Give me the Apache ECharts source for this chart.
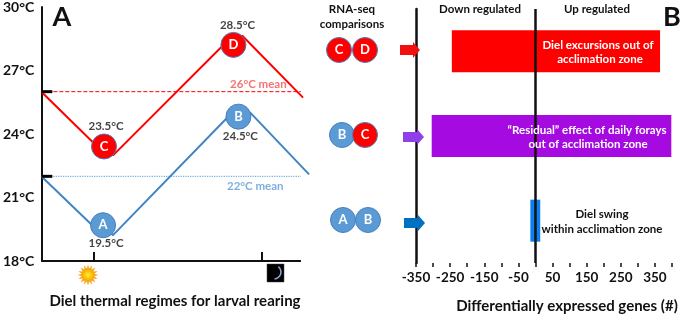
<!DOCTYPE html>
<html><head><meta charset="utf-8">
<style>html,body{margin:0;padding:0;background:#fff}#c{width:685px;height:316px}</style>
<script src="https://cdn.jsdelivr.net/npm/echarts@6/dist/echarts.min.js"></script>
</head><body><div id="c"></div>
<script>
const FONT = 'Lato';
const RED = '#ff0000', BLUE = '#3f86c6', CIRCLE_BLUE = '#5b9bd5';
// Panel A (x = hour of day, y = temperature)
const redLine = [[8.21,26],[11.93,23.6],[12.71,23.41],[13.36,22.99],[21.21,28.16],[22,28.21],[22.64,28.64],[27,25.72]];
const blueLine = [[8.21,22],[11.86,19.69],[12.64,19.69],[13.36,19.22],[21.57,24.78],[22.36,24.82],[23.21,25.01],[27.43,22.09]];
const baseline = [[8.21,18],[26.85,18]];
const redMean = [[8.21,26],[26.85,26]];
const blueMean = [[8.21,22],[26.85,22]];
const redStub = [[8.21,26],[9.0,26]];
const blueStub = [[8.21,22],[9.0,22]];
const redNodes = [[12.71,23.41,'C'],[22,28.21,'D']];
const blueNodes = [[12.64,19.69,'A'],[22.36,24.82,'B']];
const tempLabels = [[22.29,29.15,'28.5°C'],[12.86,24.35,'23.5°C'],[22.5,23.88,'24.5°C'],[12.86,18.85,'19.5°C']];
const redMeanLabel = [[23.79,26.35,'26°C mean']];
const blueMeanLabel = [[23.57,21.53,'22°C mean']];
// Panel B
const comparisons = ['C-D','B-C','A-B'];
const downGenes = [-245,-304,-15];
const upGenes = [365,398,14];
const barColors = ['#ff0000','#a50ae0','#0a80f0'];

const txt = (x,y,text,size,color,align,weight) => ({type:'text',z:12,x,y,style:{text,fill:color||'#111',
  font:`${weight||'bold'} ${size}px ${FONT}`,align:align||'center',verticalAlign:'middle'}});
const circle = (x,y,fill,letter,z) => [
  {type:'circle',z:z||5,shape:{cx:x,cy:y,r:12.5},style:{fill,stroke:'#4a7ebb',lineWidth:1}},
  txt(x,y,letter,13,'#fff')];
const arrow = (x0,x1,y,fill) => ({type:'polygon',z:4,shape:{points:[[x0,y-5],[x1-7,y-5],[x1-7,y-8],[x1,y],[x1-7,y+8],[x1-7,y+5],[x0,y+5]]},style:{fill}});
const sunRays = (cx,cy,n,r,r0) => { const p=[]; for(let i=0;i<n*2;i++){const a=Math.PI*i/n, q=i%2?r0:r; p.push([cx+q*Math.cos(a),cy+q*Math.sin(a)]);} return p; };

const nodeSeries = (data,color) => ({type:'scatter',xAxisIndex:0,yAxisIndex:0,z:6,data,symbolSize:25,clip:false,
  itemStyle:{color,borderColor:'#4a7ebb',borderWidth:1,opacity:1},
  label:{show:true,position:'inside',color:'#fff',fontFamily:FONT,fontWeight:'bold',fontSize:13,formatter:p=>p.data[2]}});
const lineSeries = (data,color,width,type) => ({type:'line',xAxisIndex:0,yAxisIndex:0,data,showSymbol:false,clip:false,z:type?2:3,silent:true,
  lineStyle:{color,width,type:type||'solid',cap:'butt'}});
const textSeries = (data,color,size) => ({type:'scatter',xAxisIndex:0,yAxisIndex:0,data,symbolSize:0,clip:false,z:8,
  label:{show:true,position:'inside',color,fontFamily:FONT,fontWeight:'bold',fontSize:size,formatter:p=>p.data[2]}});

const option = {
  animation:false,
  backgroundColor:'#fff',
  textStyle:{fontFamily:FONT},
  grid:[{left:40,top:6,width:271,height:255},{left:416,top:9,width:256,height:254}],
  xAxis:[
    {gridIndex:0,type:'value',min:8.21,max:27.57,splitLine:{show:false},axisLabel:{show:false},
     axisLine:{show:false,onZero:false},
     axisTick:{show:true,inside:true,length:9,customValues:[12,24],lineStyle:{color:'#111',width:2}}},
    {gridIndex:1,type:'value',min:-350,max:400,interval:50,splitLine:{show:false},
     axisLine:{onZero:false,lineStyle:{color:'#111',width:2}},
     axisTick:{show:true,length:4,lineStyle:{color:'#111',width:1.5}},
     axisLabel:{color:'#111',fontFamily:FONT,fontWeight:'bold',fontSize:13.5,margin:8,hideOverlap:false,
       formatter:v=>((v+350)%100===0&&v<400)?String(v):''}}
  ],
  yAxis:[
    {gridIndex:0,type:'value',min:18,max:30,interval:3,splitLine:{show:false},axisTick:{show:false},
     axisLine:{show:true,onZero:false,lineStyle:{color:'#111',width:2}},
     axisLabel:{color:'#111',fontFamily:FONT,fontWeight:'bold',fontSize:14,margin:7,formatter:v=>v+'°C'}},
    {gridIndex:1,type:'category',inverse:true,data:comparisons,splitLine:{show:false},axisTick:{show:false},axisLabel:{show:false},
     axisLine:{show:true,onZero:false,lineStyle:{color:'#111',width:2.5}}}
  ],
  series:[
    lineSeries(baseline,'#111',2),
    lineSeries(redMean,RED,1,'dashed'),
    lineSeries(blueMean,'#6aaee8',1.2,'dotted'),
    lineSeries(redLine,RED,2),
    lineSeries(blueLine,BLUE,2),
    lineSeries(redStub,'#000',3),
    lineSeries(blueStub,'#000',3),
    nodeSeries(redNodes,RED),
    nodeSeries(blueNodes,CIRCLE_BLUE),
    textSeries(tempLabels,'#111',11.5),
    textSeries(redMeanLabel,'#f25050',11.5),
    textSeries(blueMeanLabel,'#5b9bd5',11.5),
    {type:'bar',xAxisIndex:1,yAxisIndex:1,stack:'g',barWidth:42,z:2,
     data:downGenes.map((v,i)=>({value:v,itemStyle:{color:barColors[i]}})),
     markLine:{silent:true,symbol:'none',z:9,label:{show:false},lineStyle:{color:'#111',width:2.5,type:'solid'},data:[{xAxis:0}]}},
    {type:'bar',xAxisIndex:1,yAxisIndex:1,stack:'g',barWidth:42,z:2,
     data:upGenes.map((v,i)=>({value:v,itemStyle:{color:barColors[i]}}))}
  ],
  graphic:[
    txt(62,17,'A',27,'#111'),
    txt(672,17,'B',27,'#111'),
    txt(175,301,'Diel thermal regimes for larval rearing',15,'#111'),
    txt(567,306,'Differentially expressed genes (#)',15,'#111'),
    txt(352,9,'RNA-seq',11.5,'#111'),
    txt(352,24,'comparisons',11.5,'#111'),
    txt(480,9,'Down regulated',11.5,'#111'),
    txt(597,9,'Up regulated',11.5,'#111'),
    txt(598,45,'Diel excursions out of',11.5,'#fff'),
    txt(600,59,'acclimation zone',11.5,'#fff'),
    txt(587,130,'“Residual” effect of daily forays',11.5,'#fff'),
    txt(588,144,'out of acclimation zone',11.5,'#fff'),
    txt(602,214,'Diel swing',11.5,'#111'),
    txt(602,229,'within acclimation zone',11.5,'#111'),
    ...circle(339,50,RED,'C'),...circle(365,50,RED,'D',6),
    ...circle(342,135,CIRCLE_BLUE,'B'),...circle(365,135,RED,'C',6),
    ...circle(343,220,CIRCLE_BLUE,'A'),...circle(368,220,CIRCLE_BLUE,'B',6),
    arrow(400,420,50,'#f01010'),
    arrow(403,424,137,'#9040e8'),
    arrow(404,425,223,'#0070c0'),
    // sun
    {type:'polygon',z:5,shape:{points:sunRays(88,275,16,10.5,6.5)},style:{fill:'#f9a825'}},
    {type:'circle',z:6,shape:{cx:88,cy:275,r:6},style:{fill:{type:'radial',x:.5,y:.5,r:.5,colorStops:[{offset:0,color:'#ffee30'},{offset:1,color:'#f5a800'}]}}},
    // moon
    {type:'rect',z:5,shape:{x:267,y:264,width:17,height:18},style:{fill:'#000',stroke:'#444',lineWidth:.5}},
    {type:'arc',z:6,shape:{cx:274,cy:272,r:7,startAngle:-0.9,endAngle:1.5},style:{stroke:'#8fa0d8',lineWidth:1.6,fill:null}}
  ]
};
const chart = echarts.init(document.getElementById('c'),null,{renderer:'canvas'});
chart.setOption(option);
</script></body></html>
